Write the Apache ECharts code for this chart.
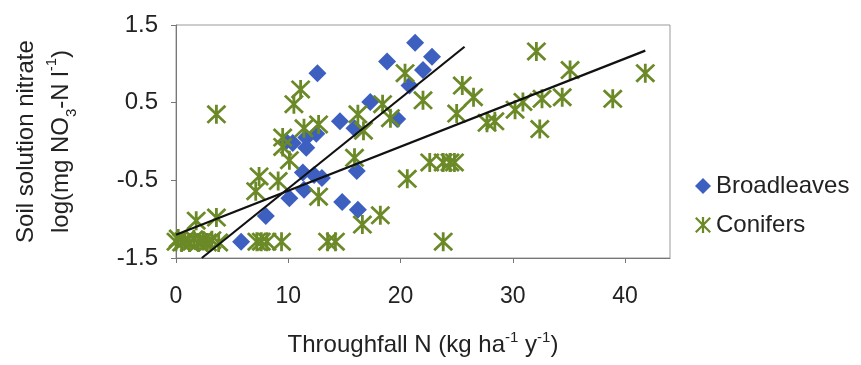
<!DOCTYPE html>
<html>
<head>
<meta charset="utf-8">
<script src="https://cdn.jsdelivr.net/npm/echarts@6/dist/echarts.min.js"></script>
<style>
html,body{margin:0;padding:0;background:#fff;}
#c{width:861px;height:365px;}
</style>
</head>
<body>
<div id="c"></div>
<script>
// x: throughfall N (kg/ha/y), y: log nitrate
var broadleaves = [
  [5.8,-1.29],[8.0,-0.96],[10.1,-0.73],[11.4,-0.62],[11.3,-0.40],[12.3,-0.43],[13.0,-0.47],
  [14.8,-0.78],[16.2,-0.88],[16.1,-0.38],[12.6,0.88],[18.8,1.03],[21.3,1.27],[22.8,1.09],
  [22.0,0.92],[20.8,0.72],[17.3,0.51],[14.6,0.26],[15.9,0.17],[19.7,0.29],[12.5,0.10],
  [11.6,0.05],[10.4,-0.02],[11.6,-0.08],[9.8,0.0]
];
var conifers = [
  [0.0,-1.29],[0.2,-1.25],[0.5,-1.30],[0.8,-1.27],[1.2,-1.30],[1.6,-1.26],[2.0,-1.30],
  [2.4,-1.28],[2.8,-1.30],[3.2,-1.27],[3.8,-1.30],[7.2,-1.29],[7.6,-1.29],[8.1,-1.29],
  [9.4,-1.29],[13.5,-1.29],[14.2,-1.29],[23.8,-1.29],
  [1.8,-1.02],[3.6,-0.98],[7.1,-0.64],[7.4,-0.45],[9.1,-0.51],[9.5,-0.07],[10.1,-0.24],
  [12.7,-0.71],[15.9,-0.21],[20.6,-0.48],[22.6,-0.27],[23.8,-0.27],[24.4,-0.27],[24.8,-0.27],
  [18.2,-0.95],[16.6,-1.07],[3.6,0.35],[11.1,0.67],[10.5,0.48],[11.4,0.17],[12.7,0.22],
  [9.5,0.05],[20.4,0.88],[22.0,0.53],[18.4,0.48],[16.2,0.35],[19.1,0.30],[16.7,0.14],
  [25.5,0.72],[26.5,0.57],[25.0,0.36],[27.7,0.24],[32.1,1.16],[35.1,0.92],[41.8,0.88],
  [34.4,0.57],[32.6,0.55],[30.9,0.51],[38.9,0.55],[30.2,0.41],[32.4,0.16],[28.4,0.26]
];
var broadleavesFit = [[2.3,-1.5],[25.7,1.22]];
var conifersFit = [[0.0,-1.2],[41.8,1.17]];
var xTicks = [0,10,20,30,40];
var yTicks = [-1.5,-0.5,0.5,1.5];

var FONT = "'Liberation Sans', Arial, sans-serif";
var BLUE = '#3d5fbf';
var GREEN = '#6b8a27';
var STAR = 'path://M-1.4,-10L1.4,-10L1.4,10L-1.4,10Z' +
  'M-8.0,-10.0L10.0,8.0L8.0,10.0L-10.0,-8.0Z' +
  'M-8.0,10.0L-10.0,8.0L8.0,-10.0L10.0,-8.0Z';

var chart = echarts.init(document.getElementById('c'));
chart.setOption({
  animation: false,
  backgroundColor: '#fff',
  grid: {left: 176, right: 191, top: 25, bottom: 98, show: true, borderColor: '#999', borderWidth: 1},
  legend: {
    orient: 'vertical', left: 690, top: 169, itemGap: 15, itemWidth: 16, itemHeight: 16,
    textStyle: {fontFamily: FONT, fontSize: 24, color: '#222'},
    data: [{name: 'Broadleaves', icon: 'diamond'}, {name: 'Conifers', icon: STAR}]
  },
  xAxis: {
    type: 'value', min: 0, max: 44, interval: 10,
    name: 'Throughfall N (kg ha{sup|-1} y{sup|-1})',
    nameLocation: 'middle', nameGap: 72,
    nameTextStyle: {fontFamily: FONT, fontSize: 24, color: '#222', lineHeight: 30,
      rich: {sup: {fontFamily: FONT, fontSize: 15, verticalAlign: 'top', lineHeight: 16, color: '#222'}}},
    axisLine: {onZero: false, lineStyle: {color: '#777', width: 1}},
    axisTick: {length: 5, lineStyle: {color: '#777'}, customValues: xTicks},
    axisLabel: {fontFamily: FONT, fontSize: 23, color: '#222', margin: 27, customValues: xTicks},
    splitLine: {show: false}
  },
  yAxis: {
    type: 'value', min: -1.5, max: 1.5, interval: 1,
    name: '{n|Soil solution nitrate}\n{n|log(mg NO}{sub|3}{n|-N l}{sup|-1}{n|)}',
    nameLocation: 'middle', nameRotate: 90, nameGap: 97,
    nameTextStyle: {fontFamily: FONT, color: '#222',
      rich: {
        n: {fontFamily: FONT, fontSize: 24, lineHeight: 35, color: '#222'},
        sub: {fontFamily: FONT, fontSize: 15, verticalAlign: 'bottom', lineHeight: 17, color: '#222'},
        sup: {fontFamily: FONT, fontSize: 15, verticalAlign: 'top', lineHeight: 17, color: '#222'}
      }},
    axisLine: {onZero: false, lineStyle: {color: '#777', width: 1}},
    axisTick: {length: 5, lineStyle: {color: '#777'}, customValues: yTicks},
    axisLabel: {fontFamily: FONT, fontSize: 24, color: '#222', margin: 18, customValues: yTicks,
      formatter: function (v) { return (+v).toFixed(1); }},
    splitLine: {show: false}
  },
  series: [
    {name: 'Broadleaves', type: 'scatter', data: broadleaves, symbol: 'diamond', symbolSize: 18,
     itemStyle: {color: BLUE, opacity: 1}, z: 2},
    {name: 'Conifers', type: 'scatter', data: conifers, symbol: STAR, symbolSize: [20, 19],
     itemStyle: {color: GREEN, opacity: 1}, z: 3},
    {name: 'fitB', type: 'line', data: broadleavesFit, symbol: 'none', silent: true,
     lineStyle: {color: '#111', width: 2.2}, z: 5},
    {name: 'fitC', type: 'line', data: conifersFit, symbol: 'none', silent: true,
     lineStyle: {color: '#111', width: 2.2}, z: 5}
  ]
});
</script>
</body>
</html>
